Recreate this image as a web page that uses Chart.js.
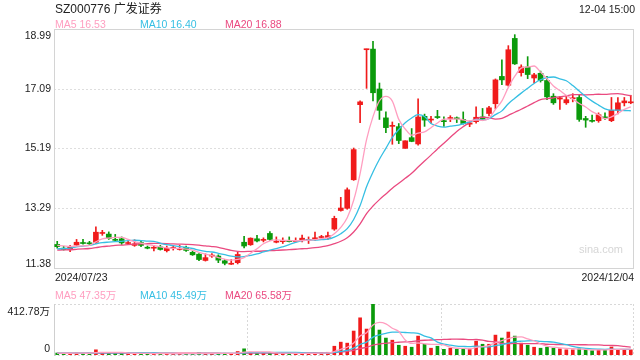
<!DOCTYPE html>
<html>
<head>
<meta charset="utf-8">
<script src="https://cdn.jsdelivr.net/npm/chart.js@4.4.1/dist/chart.umd.min.js"></script>
<style>
  html, body { margin: 0; padding: 0; background: #fff; }
  #wrap { position: relative; width: 640px; height: 360px; }
  canvas { position: absolute; left: 0; }
  #kline { top: 0; }
  #vol { top: 285px; }
</style>
</head>
<body>
<div id="wrap">
  <canvas id="kline" width="640" height="285"></canvas>
  <canvas id="vol" width="640" height="75"></canvas>
</div>
<script>
// fonts and colours
const FONT = '"Liberation Sans", Arial, "Noto Sans CJK SC", sans-serif';
const UP = '#f01b1b';
const DOWN = '#0b9a0b';
const C_MA5 = '#ff9ec0';
const C_MA10 = '#36bfe3';
const C_MA20 = '#ea4a80';

// text
const title = 'SZ000776 广发证券';
const stamp = '12-04 15:00';
const priceMaLabels = ['MA5 16.53', 'MA10 16.40', 'MA20 16.88'];
const volMaLabels = ['MA5 47.35万', 'MA10 45.49万', 'MA20 65.58万'];
const priceTicks = [11.38, 13.29, 15.19, 17.09, 18.99];
const volTicks = [0, 412.78];

// trading days, 2024/07/23 .. 2024/12/04
const dates = [
  '07/23','07/24','07/25','07/26','07/29','07/30','07/31',
  '08/01','08/02','08/05','08/06','08/07','08/08','08/09','08/12','08/13','08/14','08/15','08/16',
  '08/19','08/20','08/21','08/22','08/23','08/26','08/27','08/28','08/29','08/30',
  '09/02','09/03','09/04','09/05','09/06','09/09','09/10','09/11','09/12','09/13',
  '09/18','09/19','09/20','09/23','09/24','09/25','09/26','09/27','09/30',
  '10/08','10/09','10/10','10/11','10/14','10/15','10/16','10/17','10/18',
  '10/21','10/22','10/23','10/24','10/25','10/28','10/29','10/30','10/31',
  '11/01','11/04','11/05','11/06','11/07','11/08','11/11','11/12','11/13','11/14','11/15',
  '11/18','11/19','11/20','11/21','11/22','11/25','11/26','11/27','11/28','11/29',
  '12/02','12/03','12/04'
];

const opens = [
  12.13,12.01,11.97,12.11,12.18,12.17,12.20,12.48,12.46,12.28,
  12.31,12.16,12.10,12.19,12.03,12.01,12.05,11.93,12.00,11.97,
  12.04,11.88,11.82,11.62,11.76,11.76,11.61,11.50,11.55,12.20,
  12.12,12.31,12.26,12.48,12.20,12.22,12.25,12.22,12.26,12.26,
  12.31,12.35,12.35,12.62,13.21,13.28,14.19,16.58,18.33,18.35,
  17.08,16.16,15.89,15.88,15.19,15.53,15.33,16.21,16.09,16.19,
  16.06,16.14,16.16,16.11,15.96,16.04,16.19,16.30,16.61,17.48,
  17.20,18.69,17.60,17.78,17.43,17.58,17.35,16.85,16.76,16.64,
  16.77,16.81,16.14,16.07,16.07,16.19,16.07,16.40,16.64,16.64
];
const closes = [
  12.06,11.97,12.04,12.20,12.16,12.15,12.52,12.51,12.32,12.26,
  12.18,12.18,12.15,12.10,12.01,12.03,11.97,12.01,12.01,11.99,
  11.94,11.80,11.65,11.71,11.78,11.63,11.53,11.51,11.81,12.08,
  12.33,12.24,12.29,12.29,12.23,12.25,12.22,12.25,12.33,12.29,
  12.33,12.37,12.41,12.96,13.29,13.87,15.15,16.67,18.35,16.96,
  16.40,15.85,15.91,15.44,15.43,15.41,16.19,16.09,16.12,16.17,
  16.04,16.17,16.13,15.98,16.00,16.18,16.11,16.48,17.37,17.37,
  18.33,17.88,17.78,17.54,17.53,17.35,16.83,16.64,16.80,16.74,
  16.80,16.11,16.09,16.05,16.26,16.16,16.40,16.64,16.70,16.66
];
const highs = [
  12.23,12.07,12.10,12.29,12.29,12.23,12.69,12.58,12.53,12.45,
  12.37,12.24,12.28,12.23,12.08,12.10,12.10,12.08,12.08,12.10,
  12.08,11.92,11.84,11.83,11.84,11.80,11.65,11.65,11.89,12.39,
  12.34,12.42,12.34,12.54,12.37,12.34,12.37,12.34,12.43,12.37,
  12.52,12.42,12.52,13.03,13.63,13.93,15.20,16.70,18.35,18.60,
  17.27,16.35,16.03,15.98,15.43,15.82,16.77,16.28,16.21,16.40,
  16.19,16.23,16.19,16.35,16.06,16.51,16.46,16.53,17.40,18.01,
  18.46,18.81,17.85,18.11,17.58,17.65,17.48,16.93,16.85,16.88,
  16.93,16.88,16.21,16.25,16.32,16.32,16.81,16.81,16.81,16.88
];
const lows = [
  12.01,11.95,11.90,12.10,12.14,12.12,12.16,12.42,12.29,12.23,
  12.13,12.12,12.07,12.06,11.99,11.92,11.95,11.89,11.95,11.95,
  11.91,11.78,11.61,11.60,11.72,11.55,11.48,11.49,11.51,12.02,
  12.10,12.21,12.21,12.26,12.18,12.16,12.21,12.21,12.21,12.16,
  12.26,12.29,12.29,12.58,13.19,13.25,14.17,16.01,17.10,16.70,
  16.11,15.69,15.32,15.34,15.19,15.40,15.29,15.89,15.98,16.14,
  15.89,16.04,16.01,15.96,15.88,15.99,16.07,16.22,16.45,17.22,
  17.17,17.86,17.49,17.41,17.27,17.30,16.74,16.59,16.43,16.59,
  16.67,16.05,15.86,16.02,16.02,16.11,16.04,16.29,16.54,16.61
];
// volume, 万手
const volumes = [
  16,13,14,16,13,12,42,20,18,14,
  15,11,12,13,11,12,11,12,10,10,
  12,13,16,14,11,13,14,12,28,50,
  22,17,13,20,14,13,12,12,14,13,
  16,19,22,71,104,96,194,301,210,412.78,
  202,137,120,79,71,63,153,87,55,71,
  46,55,46,49,49,112,87,87,161,137,
  186,153,96,79,63,55,63,55,50,42,
  42,50,42,35,42,42,65,45,44,42
];
// sessions before 07/23, only feed the moving averages at the left edge
const priorCloses = [11.86,11.95,11.90,11.88,11.93,11.95,11.90,11.93,11.87,11.94,11.86,11.90,11.84,11.92,11.88,12.06,12.12,12.15,12.11];
const priorVolumes = [15,14,16,13,15,14,13,15,14,16,14,13,15,14,16,15,14,13,15];

function movingAvg(values, prior, n) {
  const all = prior.concat(values);
  return values.map((v, i) => {
    const end = prior.length + i + 1;
    const win = all.slice(Math.max(0, end - n), end);
    return win.reduce((a, b) => a + b, 0) / win.length;
  });
}

const candleColors = closes.map((c, i) => c >= opens[i] ? UP : DOWN);

function maLine(data, color) {
  return {
    type: 'line', data: data, borderColor: color, borderWidth: 1.3,
    pointRadius: 0, fill: false, cubicInterpolationMode: 'monotone', order: 0
  };
}

// grid, frame and texts of the price panel
const klineDecor = {
  id: 'klineDecor',
  beforeDatasetsDraw(chart) {
    const { ctx, chartArea: a, scales: { y } } = chart;
    ctx.save();
    ctx.lineWidth = 1;
    ctx.strokeStyle = '#dedede';
    ctx.setLineDash([2, 2]);
    priceTicks.slice(1, -1).forEach(v => {
      const py = Math.round(y.getPixelForValue(v)) + 0.5;
      ctx.beginPath(); ctx.moveTo(a.left, py); ctx.lineTo(a.right, py); ctx.stroke();
    });
    ctx.setLineDash([]);
    ctx.strokeStyle = '#d4d4d4';
    ctx.strokeRect(a.left + 0.5, a.top + 0.5, a.right - a.left - 1, a.bottom - a.top);
    ctx.fillStyle = '#d6d6d6';
    ctx.font = '11px ' + FONT;
    ctx.textAlign = 'right';
    ctx.textBaseline = 'alphabetic';
    ctx.fillText('sina.com', a.right - 11, a.bottom - 15);
    ctx.restore();
  },
  afterDraw(chart) {
    const { ctx, chartArea: a, scales: { y } } = chart;
    ctx.save();
    ctx.textBaseline = 'alphabetic';
    ctx.fillStyle = '#222';
    ctx.font = '12px ' + FONT;
    ctx.textAlign = 'left';
    ctx.fillText(title, 55, 13);
    ctx.font = '10.5px ' + FONT;
    ctx.textAlign = 'right';
    ctx.fillText(stamp, 635, 13);

    [C_MA5, C_MA10, C_MA20].forEach((c, i) => {
      ctx.fillStyle = c;
      ctx.textAlign = 'left';
      ctx.fillText(priceMaLabels[i], 55 + 85 * i, 28);
    });

    ctx.fillStyle = '#222';
    ctx.textAlign = 'right';
    priceTicks.forEach((v, i) => {
      const py = y.getPixelForValue(v);
      if (i === priceTicks.length - 1) { ctx.textBaseline = 'top'; ctx.fillText(v.toFixed(2), 51, py + 2); }
      else if (i === 0) { ctx.textBaseline = 'alphabetic'; ctx.fillText(v.toFixed(2), 51, py - 1); }
      else { ctx.textBaseline = 'middle'; ctx.fillText(v.toFixed(2), 51, py); }
    });

    ctx.textBaseline = 'alphabetic';
    ctx.textAlign = 'left';
    ctx.fillText('2024/' + dates[0], 55, 281);
    ctx.textAlign = 'right';
    ctx.fillText('2024/' + dates[dates.length - 1], 634, 281);
    ctx.restore();
  }
};

new Chart(document.getElementById('kline'), {
  type: 'bar',
  data: {
    labels: dates,
    datasets: [
      { data: lows.map((l, i) => [l, highs[i]]), backgroundColor: candleColors,
        barThickness: 1, grouped: false, order: 2 },
      { data: opens.map((o, i) => [o, closes[i]]), backgroundColor: candleColors,
        barThickness: 5, minBarLength: 1, grouped: false, order: 1 },
      maLine(movingAvg(closes, priorCloses, 5), C_MA5),
      maLine(movingAvg(closes, priorCloses, 10), C_MA10),
      maLine(movingAvg(closes, priorCloses, 20), C_MA20)
    ]
  },
  options: {
    responsive: false,
    animation: false,
    devicePixelRatio: 1,
    events: [],
    layout: { padding: { left: 54, right: 6, top: 29, bottom: 17 } },
    plugins: { legend: { display: false }, tooltip: { enabled: false } },
    scales: {
      x: { display: false, offset: true },
      y: { display: false, min: priceTicks[0], max: priceTicks[priceTicks.length - 1] }
    }
  },
  plugins: [klineDecor]
});

// frame and texts of the volume panel
const volDecor = {
  id: 'volDecor',
  beforeDatasetsDraw(chart) {
    const { ctx, chartArea: a } = chart;
    ctx.save();
    ctx.lineWidth = 1;
    ctx.strokeStyle = '#d8d8d8';
    ctx.setLineDash([2, 2]);
    const seg = (x1, y1, x2, y2) => { ctx.beginPath(); ctx.moveTo(x1, y1); ctx.lineTo(x2, y2); ctx.stroke(); };
    seg(a.left, a.top + 0.5, a.right, a.top + 0.5);
    seg(a.left, a.bottom + 0.5, a.right, a.bottom + 0.5);
    seg(a.right - 0.5, a.top, a.right - 0.5, a.bottom);
    [1, 2].forEach(k => {
      const px = Math.round(a.left + (a.right - a.left) * k / 3) + 0.5;
      seg(px, a.top, px, a.bottom);
    });
    ctx.setLineDash([]);
    ctx.strokeStyle = '#cfcfcf';
    seg(a.left + 0.5, a.top, a.left + 0.5, a.bottom + 1);
    ctx.restore();
  },
  afterDraw(chart) {
    const { ctx, scales: { y } } = chart;
    ctx.save();
    ctx.font = '10.5px ' + FONT;
    [C_MA5, C_MA10, C_MA20].forEach((c, i) => {
      ctx.fillStyle = c;
      ctx.textAlign = 'left';
      ctx.textBaseline = 'alphabetic';
      ctx.fillText(volMaLabels[i], 55 + 85 * i, 14);
    });
    ctx.fillStyle = '#222';
    ctx.textAlign = 'right';
    ctx.textBaseline = 'top';
    ctx.fillText(volTicks[1].toFixed(2) + '万', 50, y.getPixelForValue(volTicks[1]) + 3);
    ctx.textBaseline = 'alphabetic';
    ctx.fillText(String(volTicks[0]), 50, y.getPixelForValue(volTicks[0]) - 3);
    ctx.restore();
  }
};

new Chart(document.getElementById('vol'), {
  type: 'bar',
  data: {
    labels: dates,
    datasets: [
      { data: volumes, backgroundColor: candleColors, barThickness: 3, grouped: false, order: 1 },
      maLine(movingAvg(volumes, priorVolumes, 5), C_MA5),
      maLine(movingAvg(volumes, priorVolumes, 10), C_MA10),
      maLine(movingAvg(volumes, priorVolumes, 20), C_MA20)
    ]
  },
  options: {
    responsive: false,
    animation: false,
    devicePixelRatio: 1,
    events: [],
    layout: { padding: { left: 54, right: 6, top: 19, bottom: 5 } },
    plugins: { legend: { display: false }, tooltip: { enabled: false } },
    scales: {
      x: { display: false, offset: true },
      y: { display: false, min: volTicks[0], max: volTicks[1] }
    }
  },
  plugins: [volDecor]
});
</script>
</body>
</html>
